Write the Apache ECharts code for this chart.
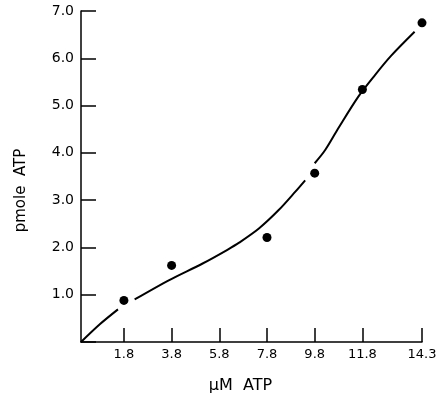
<!DOCTYPE html>
<html>
<head>
<meta charset="utf-8">
<script src="https://cdn.jsdelivr.net/npm/echarts@6/dist/echarts.min.js"></script>
<style>
  html, body { margin: 0; padding: 0; background: #fff; }
  #chart { width: 440px; height: 404px; }
</style>
</head>
<body>
<div id="chart"></div>
<script>
// x tick positions (µM ATP) as printed on the axis
const xTicks = [1.8, 3.8, 5.8, 7.8, 9.8, 11.8, 14.3];

// measured points: [µM ATP, pmole ATP]
const points = [
  [1.8, 0.88],
  [3.8, 1.62],
  [7.8, 2.21],
  [9.8, 3.57],
  [11.8, 5.34],
  [14.3, 6.75]
];

// hand-drawn curve, broken where it passes near the points
const curve = [
  [0, 0], [0.8, 0.38], [1.55, 0.69],
  null,
  [2.25, 0.9], [3.7, 1.31], [5.1, 1.66], [6.14, 1.95], [6.63, 2.1], [7.46, 2.4],
  [8.29, 2.79], [8.99, 3.18], [9.4, 3.42],
  null,
  [9.8, 3.78], [10.24, 4.06], [10.79, 4.52], [11.63, 5.19], [12.32, 5.64], [13.0, 6.05], [13.99, 6.56]
];

const font = 'DejaVu Sans';
const ink = '#000';

const myChart = echarts.init(document.getElementById('chart'));
const option = {
  animation: false,
  grid: { left: 81, top: 11, right: 18, bottom: 62 },
  xAxis: {
    type: 'value',
    min: 0,
    max: 14.3,
    name: 'µM  ATP',
    nameLocation: 'middle',
    nameGap: 36,
    // padding nudges the title left of the axis centre, as in the original
    nameTextStyle: { fontFamily: font, fontSize: 16, color: ink, padding: [0, 22, 0, 0] },
    axisLine: { lineStyle: { color: ink, width: 1.5 } },
    axisTick: { inside: true, length: 14, customValues: xTicks, lineStyle: { color: ink, width: 1.5 } },
    axisLabel: { customValues: xTicks, margin: 6, fontFamily: font, fontSize: 13, color: ink,
      formatter: v => String(v) },
    splitLine: { show: false }
  },
  yAxis: {
    type: 'value',
    min: 0,
    max: 7,
    interval: 1,
    name: 'pmole  ATP',
    nameLocation: 'middle',
    nameGap: 52,
    nameTextStyle: { fontFamily: font, fontSize: 15, color: ink, padding: [0, 28, 0, 0] },
    axisLine: { lineStyle: { color: ink, width: 1.5 } },
    axisTick: { inside: true, length: 15, lineStyle: { color: ink, width: 1.5 } },
    axisLabel: { margin: 7, fontFamily: font, fontSize: 14, color: ink,
      formatter: v => v === 0 ? '' : v.toFixed(1) },
    splitLine: { show: false }
  },
  series: [
    {
      type: 'line',
      data: curve,
      smooth: 0.3,
      connectNulls: false,
      showSymbol: false,
      lineStyle: { color: ink, width: 2 }
    },
    {
      type: 'scatter',
      data: points,
      symbol: 'circle',
      symbolSize: 9,
      itemStyle: { color: ink, opacity: 1 }
    }
  ]
};
myChart.setOption(option);
</script>
</body>
</html>
